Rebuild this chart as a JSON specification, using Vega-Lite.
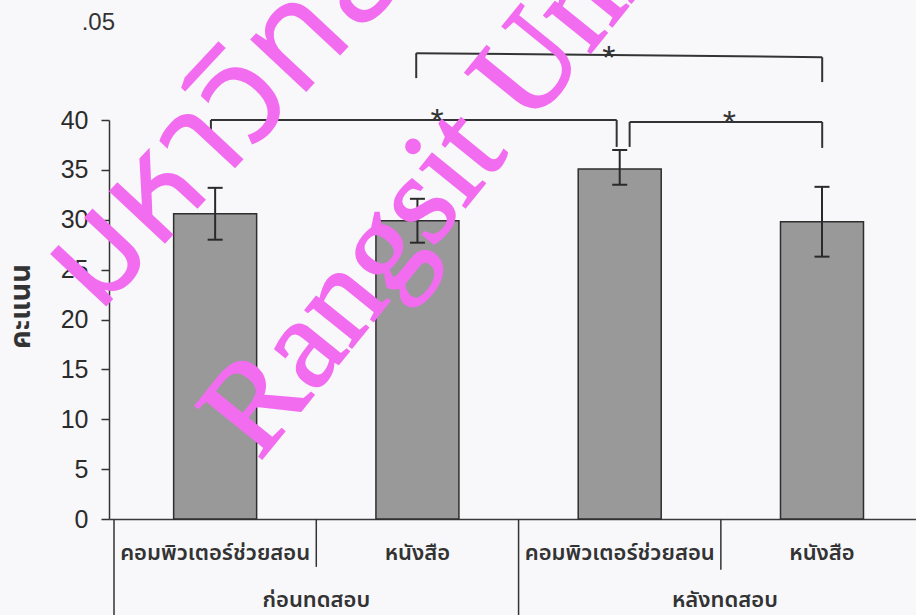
{
  "$schema": "https://vega.github.io/schema/vega-lite/v6.json",
  "width": 807,
  "height": 399,
  "autosize": {"type": "none"},
  "padding": {"left": 109, "top": 120, "right": 0, "bottom": 96},
  "background": "#f8f8fb",
  "config": {"view": {"stroke": null}, "axis": {"grid": false}},
  "resolve": {"axis": {"x": "independent", "y": "independent"}},
  "datasets": {
    "bars": [
      {"cat": "คอมพิวเตอร์ช่วยสอน", "group": "ก่อนทดสอบ", "pos": 0.5, "mean": 30.6, "lo": 28.0, "hi": 33.2},
      {"cat": "หนังสือ", "group": "ก่อนทดสอบ", "pos": 1.5, "mean": 29.9, "lo": 27.7, "hi": 32.1},
      {"cat": "คอมพิวเตอร์ช่วยสอน", "group": "หลังทดสอบ", "pos": 2.5, "mean": 35.1, "lo": 33.5, "hi": 37.0},
      {"cat": "หนังสือ", "group": "หลังทดสอบ", "pos": 3.5, "mean": 29.8, "lo": 26.3, "hi": 33.3}
    ],
    "segments": [
      {"x": 0.479, "y": 40.0, "x2": 2.485, "y2": 40.0},
      {"x": 0.479, "y": 40.0, "x2": 0.479, "y2": 37.7},
      {"x": 2.485, "y": 40.0, "x2": 2.485, "y2": 37.3},
      {"x": 2.549, "y": 39.8, "x2": 3.501, "y2": 39.8},
      {"x": 2.549, "y": 39.8, "x2": 2.549, "y2": 37.3},
      {"x": 3.501, "y": 39.8, "x2": 3.501, "y2": 37.2},
      {"x": 1.494, "y": 46.7, "x2": 3.501, "y2": 46.3},
      {"x": 1.494, "y": 46.7, "x2": 1.494, "y2": 44.2},
      {"x": 3.501, "y": 46.3, "x2": 3.501, "y2": 43.8}
    ],
    "stars": [
      {"x": 1.597, "y": 38.8},
      {"x": 3.042, "y": 38.6},
      {"x": 2.446, "y": 45.1}
    ],
    "dividers": [
      {"x": 0, "y": 0, "y2": -10},
      {"x": 1, "y": 0, "y2": -4.8},
      {"x": 2, "y": 0, "y2": -10},
      {"x": 3, "y": 0, "y2": -5.1}
    ],
    "groups": [
      {"group": "ก่อนทดสอบ", "pos": 1.0},
      {"group": "หลังทดสอบ", "pos": 3.02}
    ]
  },
  "layer": [
    {
      "data": {"name": "bars"},
      "mark": {"type": "bar", "orient": "vertical", "width": 83, "fill": "#999999", "stroke": "#2e2e2e", "strokeWidth": 1.5},
      "encoding": {
        "x": {"field": "pos", "type": "quantitative", "scale": {"domain": [0, 3.94], "nice": false, "zero": false},
          "axis": {"orient": "bottom", "domain": true, "ticks": false, "labels": false, "title": null, "domainColor": "#3a3a3a", "domainWidth": 1.5}},
        "y": {"field": "mean", "type": "quantitative", "scale": {"domain": [0, 40], "nice": false},
          "axis": {"values": [0, 5, 10, 15, 20, 25, 30, 35, 40], "labelFont": "Liberation Sans", "labelFontSize": 25, "labelColor": "#2b2b2b",
            "tickSize": 8, "tickColor": "#333", "tickWidth": 1.5, "domainColor": "#333", "domainWidth": 1.5, "labelPadding": 13,
            "title": "คะแนน", "titleFont": "Noto Sans Thai, Tahoma, sans-serif", "titleFontSize": 29, "titleFontWeight": "bold", "titleColor": "#333",
            "titleX": -89, "titleY": 186, "titleAngle": -90, "titleAlign": "center", "titleBaseline": "middle"}}
      }
    },
    {
      "data": {"name": "bars"},
      "mark": {"type": "rule", "stroke": "#2a2a2a", "strokeWidth": 2},
      "encoding": {
        "x": {"field": "pos", "type": "quantitative", "scale": {"domain": [0, 3.94], "nice": false, "zero": false}, "axis": null},
        "y": {"field": "lo", "type": "quantitative", "scale": {"domain": [0, 40], "nice": false}, "axis": null},
        "y2": {"field": "hi"}
      }
    },
    {
      "data": {"name": "bars"},
      "transform": [{"fold": ["lo", "hi"], "as": ["end", "val"]}],
      "mark": {"type": "tick", "orient": "horizontal", "size": 15, "thickness": 2, "color": "#2a2a2a", "opacity": 1},
      "encoding": {
        "x": {"field": "pos", "type": "quantitative", "scale": {"domain": [0, 3.94], "nice": false, "zero": false}, "axis": null},
        "y": {"field": "val", "type": "quantitative", "scale": {"domain": [0, 40], "nice": false}, "axis": null}
      }
    },
    {
      "data": {"name": "segments"},
      "mark": {"type": "rule", "stroke": "#333", "strokeWidth": 2},
      "encoding": {
        "x": {"field": "x", "type": "quantitative", "scale": {"domain": [0, 3.94], "nice": false, "zero": false}, "axis": null},
        "y": {"field": "y", "type": "quantitative", "scale": {"domain": [0, 40], "nice": false}, "axis": null},
        "x2": {"field": "x2"},
        "y2": {"field": "y2"}
      }
    },
    {
      "data": {"name": "stars"},
      "mark": {"type": "text", "text": "*", "font": "Liberation Sans", "fontSize": 34, "color": "#333", "align": "center", "baseline": "alphabetic"},
      "encoding": {
        "x": {"field": "x", "type": "quantitative", "scale": {"domain": [0, 3.94], "nice": false, "zero": false}, "axis": null},
        "y": {"field": "y", "type": "quantitative", "scale": {"domain": [0, 40], "nice": false}, "axis": null}
      }
    },
    {
      "data": {"name": "dividers"},
      "mark": {"type": "rule", "stroke": "#333", "strokeWidth": 1.5},
      "encoding": {
        "x": {"field": "x", "type": "quantitative", "scale": {"domain": [0, 3.94], "nice": false, "zero": false}, "axis": null},
        "y": {"field": "y", "type": "quantitative", "scale": {"domain": [0, 40], "nice": false}, "axis": null},
        "y2": {"field": "y2"}
      }
    },
    {
      "data": {"name": "bars"},
      "mark": {"type": "text", "font": "Noto Sans Thai, Tahoma, sans-serif", "fontSize": 22, "fontWeight": 600, "color": "#333", "align": "center", "baseline": "middle"},
      "encoding": {
        "x": {"field": "pos", "type": "quantitative", "scale": {"domain": [0, 3.94], "nice": false, "zero": false}, "axis": null},
        "y": {"datum": -3.4, "type": "quantitative", "scale": {"domain": [0, 40], "nice": false}, "axis": null},
        "text": {"field": "cat"}
      }
    },
    {
      "data": {"name": "groups"},
      "mark": {"type": "text", "font": "Noto Sans Thai, Tahoma, sans-serif", "fontSize": 22, "fontWeight": 600, "color": "#333", "align": "center", "baseline": "middle"},
      "encoding": {
        "x": {"field": "pos", "type": "quantitative", "scale": {"domain": [0, 3.94], "nice": false, "zero": false}, "axis": null},
        "y": {"datum": -8.1, "type": "quantitative", "scale": {"domain": [0, 40], "nice": false}, "axis": null},
        "text": {"field": "group"}
      }
    },
    {
      "data": {"values": [{"note": ".05"}]},
      "mark": {"type": "text", "font": "Liberation Sans", "fontSize": 24, "color": "#333", "align": "left", "baseline": "alphabetic"},
      "encoding": {
        "x": {"datum": -0.16, "type": "quantitative", "scale": {"domain": [0, 3.94], "nice": false, "zero": false}, "axis": null},
        "y": {"datum": 49.0, "type": "quantitative", "scale": {"domain": [0, 40], "nice": false}, "axis": null},
        "text": {"field": "note"}
      }
    },
    {
      "data": {"values": [{"wm": "มหาวิทยาลัยรังสิต"}]},
      "mark": {"type": "text", "font": "Noto Sans Thai, Tahoma, sans-serif", "fontSize": 140, "color": "#f26cf0", "align": "left", "baseline": "alphabetic", "angle": -47},
      "encoding": {
        "x": {"datum": -0.08, "type": "quantitative", "scale": {"domain": [0, 3.94], "nice": false, "zero": false}, "axis": null},
        "y": {"datum": 20.4, "type": "quantitative", "scale": {"domain": [0, 40], "nice": false}, "axis": null},
        "text": {"field": "wm"}
      }
    },
    {
      "data": {"values": [{"wm": "Rangsit University"}]},
      "mark": {"type": "text", "font": "Liberation Serif", "fontSize": 130, "color": "#f26cf0", "stroke": "#f26cf0", "strokeWidth": 2, "align": "left", "baseline": "alphabetic", "angle": -51},
      "encoding": {
        "x": {"datum": 0.718, "type": "quantitative", "scale": {"domain": [0, 3.94], "nice": false, "zero": false}, "axis": null},
        "y": {"datum": 5.7, "type": "quantitative", "scale": {"domain": [0, 40], "nice": false}, "axis": null},
        "text": {"field": "wm"}
      }
    }
  ]
}
